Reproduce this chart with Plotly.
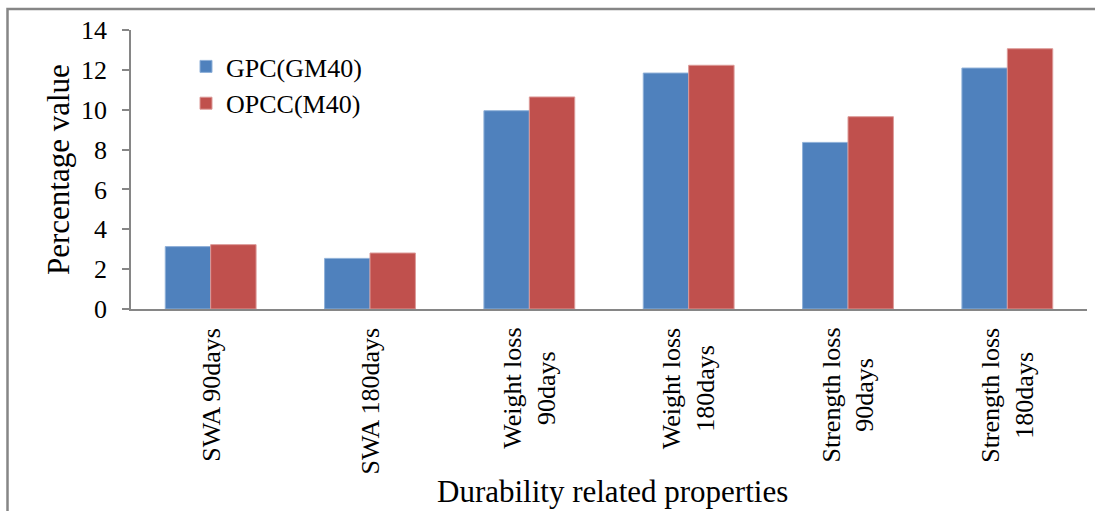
import plotly.graph_objects as go

# Durability test results, percentage values per property
categories = ["SWA 90days", "SWA 180days", "Weight loss<br>90days",
              "Weight loss<br>180days", "Strength loss<br>90days", "Strength loss<br>180days"]
gpc_values = [3.13, 2.54, 9.95, 11.84, 8.36, 12.09]
opcc_values = [3.23, 2.81, 10.64, 12.23, 9.65, 13.06]
series_names = ["GPC(GM40)", "OPCC(M40)"]
y_ticks = [0, 2, 4, 6, 8, 10, 12, 14]

FONT = "Liberation Serif"
AXIS_GREY = "#868686"
W, H = 1095, 511
ML, MR, MT, MB = 131, 8, 30, 202
PW, PH = W - ML - MR, H - MT - MB


def px_x(x):
    return (x - ML) / PW


def px_y(y):
    return (H - MB - y) / PH


fig = go.Figure()
fig.add_trace(go.Bar(x=categories, y=gpc_values, name=series_names[0],
                     marker=dict(color="#4F81BD", line=dict(color="#8fb0d8", width=1))))
fig.add_trace(go.Bar(x=categories, y=opcc_values, name=series_names[1],
                     marker=dict(color="#C0504D", line=dict(color="#dc9a98", width=1))))

# Rotated category labels, centred line by line under each group
for cat in categories:
    fig.add_annotation(x=cat, y=0, xref="x", yref="y", text=cat, textangle=-90,
                       showarrow=False, xanchor="center", yanchor="top", yshift=-17,
                       align="center", font=dict(family=FONT, size=26, color="black"))

# Axis titles
fig.add_annotation(x=px_x(612), y=px_y(492), xref="paper", yref="paper",
                   text="Durability related properties", showarrow=False,
                   xanchor="center", yanchor="middle",
                   font=dict(family=FONT, size=31, color="black"))
fig.add_annotation(x=px_x(58), y=px_y(170), xref="paper", yref="paper",
                   text="Percentage value", textangle=-90, showarrow=False,
                   xanchor="center", yanchor="middle",
                   font=dict(family=FONT, size=31, color="black"))

# Outer frame (top and left edges visible)
fig.add_shape(type="rect", xref="paper", yref="paper",
              x0=px_x(7.5), x1=px_x(W + 20), y0=px_y(H + 20), y1=px_y(9),
              line=dict(color=AXIS_GREY, width=2.5), fillcolor="rgba(0,0,0,0)", layer="below")

fig.update_layout(
    width=W, height=H,
    margin=dict(l=ML, r=MR, t=MT, b=MB),
    paper_bgcolor="white", plot_bgcolor="white",
    barmode="group", bargap=0.43, bargroupgap=0,
    font=dict(family=FONT, size=26, color="black"),
    legend=dict(x=px_x(186), y=px_y(43), xanchor="left", yanchor="top",
                bgcolor="rgba(0,0,0,0)", font=dict(family=FONT, size=26),
                itemwidth=30, tracegroupgap=0),
    showlegend=True,
)
fig.update_xaxes(showticklabels=False, showline=True, linecolor=AXIS_GREY, linewidth=2,
                 ticks="", showgrid=False, zeroline=False)
fig.update_yaxes(range=[0, 14], tickvals=y_ticks, showline=True, linecolor=AXIS_GREY,
                 linewidth=1.5, ticks="outside", ticklen=7, tickcolor=AXIS_GREY, tickwidth=1.5,
                 showgrid=False, zeroline=False, ticklabelstandoff=10,
                 tickfont=dict(family=FONT, size=26, color="black"))

fig.write_html("out.html")
